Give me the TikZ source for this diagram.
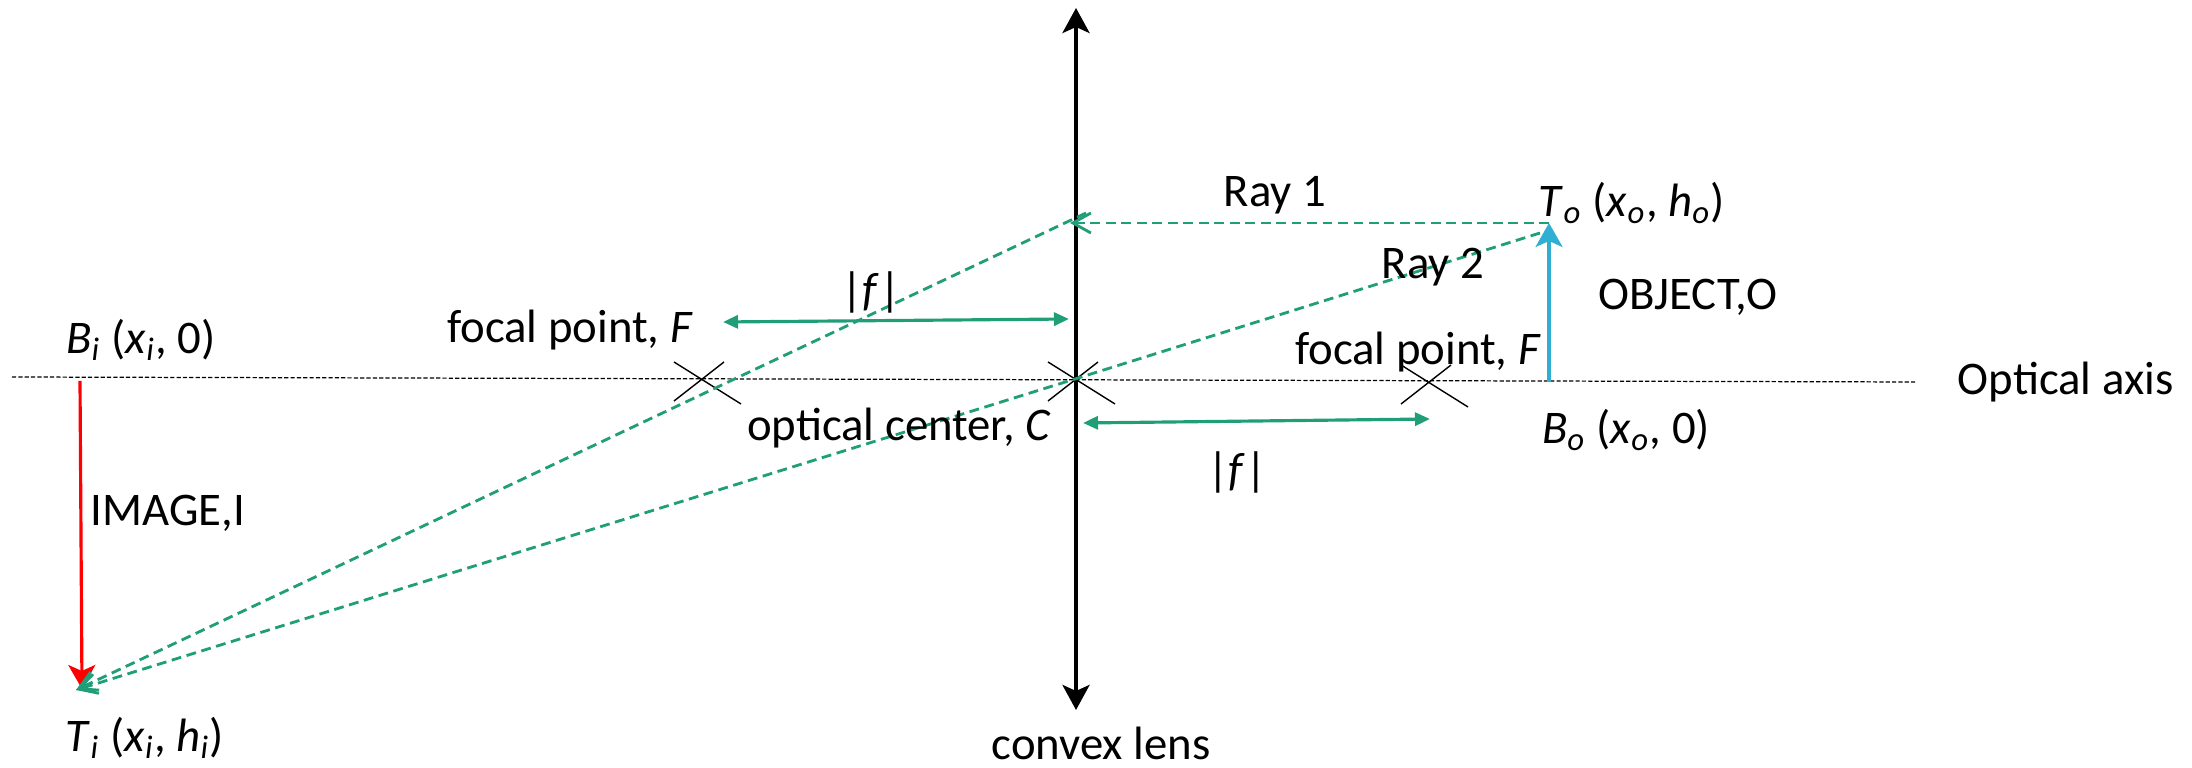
\documentclass[tikz,border=0pt]{standalone}
\usepackage{fontspec}
\setmainfont{Carlito}
\usepackage{xcolor}
\usetikzlibrary{arrows.meta,positioning}

\definecolor{raygreen}{RGB}{31,158,119}
\definecolor{objblue}{RGB}{49,175,211}
\newcommand{\isub}[2]{\textit{#1}\textsubscript{\textit{#2}}}

\begin{document}
\begin{tikzpicture}[
  x=0.01cm, y=-0.01cm,
  txt/.style={font=\fontsize{13.3pt}{15pt}\selectfont, inner sep=0pt},
  ray/.style={raygreen, line width=0.8pt, dash pattern=on 2.8pt off 1.6pt, -{Straight Barb[length=1.8mm, width=2mm]}},
  dist/.style={raygreen, line width=0.9pt, {Triangle[length=1.5mm, width=1.3mm]}-{Triangle[length=1.5mm, width=1.3mm]}},
  cross/.style={line width=0.4pt},
  lensline/.style={line width=1.1pt, {Stealth[length=2.5mm, width=2.7mm, inset=0.6mm]}-{Stealth[length=2.5mm, width=2.7mm, inset=0.6mm]}},
  arrowvec/.style={line width=0.9pt, -{Stealth[length=2.4mm, width=2.7mm, inset=0.6mm]}},
]
\useasboundingbox (0,0) rectangle (2192,768);

% Points
\coordinate (axL) at (12,377);
\coordinate (axR) at (1915,382);
\coordinate (lensT) at (1076,8);
\coordinate (lensB) at (1076,710);
\coordinate (C) at (1075,379);
\coordinate (Fl) at (701,379);
\coordinate (Fr) at (1428,382);
\coordinate (Bo) at (1549,382);
\coordinate (To) at (1549,223);
\coordinate (Bi) at (80,381);
\coordinate (Ti) at (82,689);
\coordinate (Tiray) at (76,690);
\coordinate (L1) at (1070,223);
\coordinate (L1out) at (1086,213);
\coordinate (R2s) at (1540,233);

% Axis and lens
\draw[line width=0.35pt, dash pattern=on 1.2pt off 0.6pt] (axL) -- (axR);
\draw[lensline] (lensB) -- (lensT);
\foreach \p in {Fl,C,Fr}
  \draw[cross] (\p) +(-27,-17) -- +(40,25) (\p) +(23,-17) -- +(-27,22);

% Object and image
\draw[objblue, arrowvec] (Bo) -- (To);
\draw[red, arrowvec] (Bi) -- (Ti);

% Rays
\draw[ray] (To) -- (L1);
\draw[ray] (L1out) -- (Tiray);
\draw[ray] (R2s) -- (C) -- (Tiray);

% Focal lengths
\draw[dist] (723,322) coordinate (fa) -- (1069,319) coordinate (fb);
\draw[dist] (1083,423) coordinate (fc) -- (1430,419) coordinate (fd);

% Labels
\node[txt] (Bilbl) at (141,340) {\isub{B}{i} (\isub{x}{i}, 0)};
\node[txt] (Tilbl) at (145,738) {\isub{T}{i} (\isub{x}{i}, \isub{h}{i})};
\node[txt, anchor=west] (imglbl) at (90,513) {IMAGE,I};
\node[txt] (Fllbl) at (570,330) {focal point, \textit{F}};
\node[txt] (fleft) at (871,292) {|\textit{f}|};
\node[txt] (Clbl) at (899,428) {optical center, \textit{C}};
\node[txt] (ray1) at (1275,195) {Ray 1};
\node[txt] (ray2) at (1433,267) {Ray 2};
\node[txt] (Tolbl) at (1632,203) {\isub{T}{o} (\isub{x}{o}, \isub{h}{o})};
\node[txt] (objlbl) at (1688,297) {OBJECT,O};
\node[txt] (Frlbl) at (1418,352) {focal point, \textit{F}};
\node[txt] (Bolbl) at (1626,430) {\isub{B}{o} (\isub{x}{o}, 0)};
\node[txt] (fright) at (1237,472) {|\textit{f}|};
\node[txt, right=0.42cm of axR] (axlbl) {Optical axis};
\node[txt, below=0.16cm of lensB, xshift=0.25cm] (lenslbl) {convex lens};

\end{tikzpicture}
\end{document}
